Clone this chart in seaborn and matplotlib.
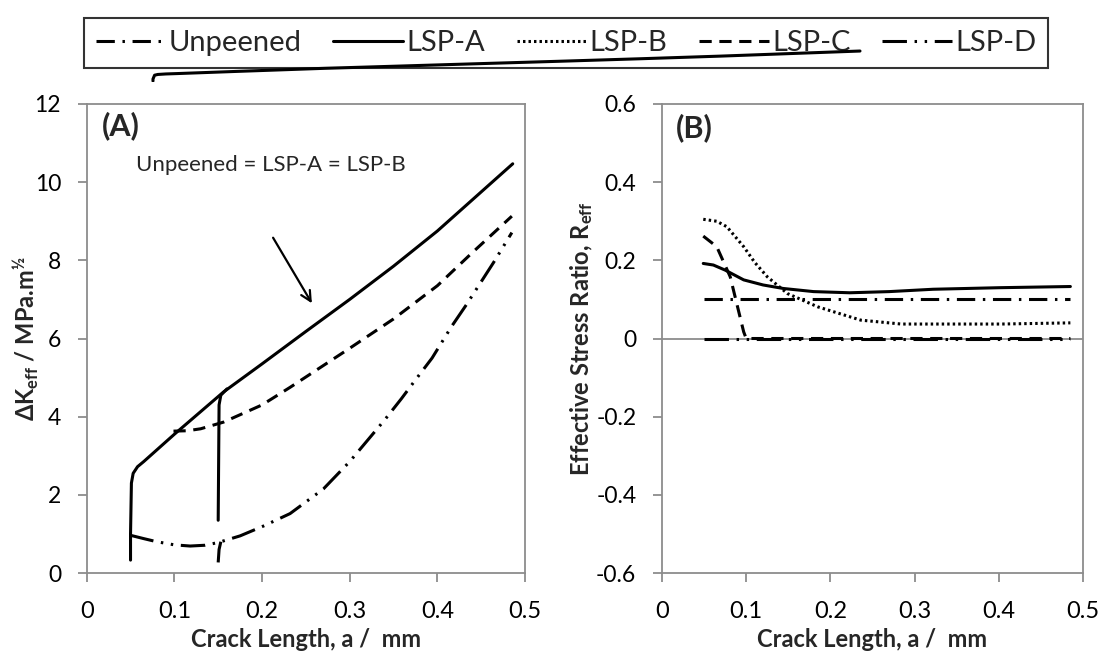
import seaborn as sns
import matplotlib.pyplot as plt
import pandas as pd

# ---- panel A: delta K_eff vs crack length ----
a_main_x = [0.050, 0.050, 0.051, 0.053, 0.058, 0.065, 0.100, 0.156, 0.200, 0.250, 0.300, 0.350, 0.400, 0.450, 0.486]
a_main_y = [0.33, 1.00, 2.30, 2.55, 2.72, 2.85, 3.55, 4.63, 5.35, 6.18, 7.00, 7.85, 8.75, 9.75, 10.47]
a_jump_x = [0.150, 0.151, 0.153, 0.160]
a_jump_y = [1.35, 4.30, 4.55, 4.71]
a_lspc_x = [0.099, 0.115, 0.130, 0.156, 0.200, 0.232, 0.300, 0.350, 0.400, 0.440, 0.485]
a_lspc_y = [3.63, 3.64, 3.69, 3.86, 4.30, 4.75, 5.75, 6.50, 7.35, 8.20, 9.13]
a_lspd_x = [0.049, 0.065, 0.080, 0.100, 0.118, 0.135, 0.150, 0.175, 0.2015, 0.232, 0.270, 0.300, 0.340, 0.359, 0.375, 0.394, 0.416, 0.433, 0.464, 0.485]
a_lspd_y = [0.97, 0.88, 0.80, 0.72, 0.69, 0.71, 0.78, 0.95, 1.20, 1.52, 2.15, 2.85, 3.92, 4.46, 4.94, 5.50, 6.30, 6.86, 7.94, 8.71]
a_lspd2_x = [0.150, 0.151, 0.153]
a_lspd2_y = [0.27, 0.60, 0.80]

# ---- panel B: effective stress ratio ----
b_unp_x = [0.050, 0.485]
b_unp_y = [0.10, 0.10]
b_lspa_x = [0.049, 0.061, 0.075, 0.097, 0.120, 0.144, 0.180, 0.223, 0.270, 0.322, 0.401, 0.485]
b_lspa_y = [0.192, 0.188, 0.175, 0.150, 0.137, 0.128, 0.120, 0.117, 0.120, 0.126, 0.130, 0.133]
b_lspb_x = [0.049, 0.065, 0.077, 0.097, 0.110, 0.125, 0.149, 0.185, 0.236, 0.284, 0.403, 0.485]
b_lspb_y = [0.305, 0.300, 0.286, 0.235, 0.195, 0.158, 0.115, 0.081, 0.047, 0.037, 0.037, 0.040]
b_lspc_x = [0.049, 0.065, 0.081, 0.097, 0.100, 0.485]
b_lspc_y = [0.262, 0.235, 0.158, 0.017, 0.0, 0.0]
b_lspd_x = [0.050, 0.485]
b_lspd_y = [0.0, 0.0]

series_names = ['Unpeened', 'LSP-A', 'LSP-B', 'LSP-C', 'LSP-D']
annot_text = 'Unpeened = LSP-A = LSP-B'

styles = {
    'Unpeened': (0, (6, 2.5, 0.8, 2.5)),
    'LSP-A': '-',
    'LSP-B': (0, (0.8, 1.0)),
    'LSP-C': (0, (4, 2.5)),
    'LSP-D': (0, (8, 2.5, 0.8, 2.5, 0.8, 2.5)),
}

sns.set_style('white')
plt.rcParams['font.family'] = ['Lato', 'DejaVu Sans']
plt.rcParams['mathtext.default'] = 'regular'

GRAY = '#8c8c8c'
LW = 2.2

W, H = 1105, 659
fig = plt.figure(figsize=(W / 100, H / 100), dpi=100)
ax_a = fig.add_axes([86.7 / W, 86 / H, 438.3 / W, 469 / H])
ax_b = fig.add_axes([662 / W, 86 / H, 421 / W, 469 / H])


def draw(ax, xs, ys, name, label=None):
    df = pd.DataFrame({'x': xs, 'y': ys})
    sns.lineplot(data=df, x='x', y='y', sort=False, estimator=None, ax=ax,
                 color='black', linewidth=LW, linestyle=styles[name],
                 label=label, legend=False)


draw(ax_a, a_main_x, a_main_y, 'LSP-A')
draw(ax_a, a_jump_x, a_jump_y, 'LSP-A')
draw(ax_a, a_lspc_x, a_lspc_y, 'LSP-C')
draw(ax_a, a_lspd_x, a_lspd_y, 'LSP-D')
draw(ax_a, a_lspd2_x, a_lspd2_y, 'LSP-D')

ax_b.axhline(0, color=GRAY, lw=1.3, zorder=1)
draw(ax_b, b_unp_x, b_unp_y, 'Unpeened', 'Unpeened')
draw(ax_b, b_lspa_x, b_lspa_y, 'LSP-A', 'LSP-A')
draw(ax_b, b_lspb_x, b_lspb_y, 'LSP-B', 'LSP-B')
draw(ax_b, b_lspc_x, b_lspc_y, 'LSP-C', 'LSP-C')
draw(ax_b, b_lspd_x, b_lspd_y, 'LSP-D', 'LSP-D')

for ax in (ax_a, ax_b):
    ax.set_xlim(0, 0.5)
    ax.set_xticks([0, 0.1, 0.2, 0.3, 0.4, 0.5])
    ax.set_xticklabels(['0', '0.1', '0.2', '0.3', '0.4', '0.5'])
    for s in ax.spines.values():
        s.set_visible(True)
        s.set_color(GRAY)
        s.set_linewidth(1.3)
    ax.tick_params(axis='both', direction='out', length=6.5, width=1.3,
                   color=GRAY, labelcolor='black', labelsize=17)
    ax.tick_params(axis='x', pad=14, bottom=True)
    ax.tick_params(axis='y', pad=12, left=True, labelsize=16.5)
    ax.set_xlabel('Crack Length, a /  mm', fontsize=17, fontweight='bold')
    ax.xaxis.set_label_coords(0.5, -0.118)

ax_a.set_ylim(0, 12)
ax_a.set_yticks(range(0, 13, 2))
ax_a.set_ylabel('ΔK$_{eff}$ / MPa.m$^{½}$', fontsize=17, fontweight='bold')
ax_a.yaxis.set_label_coords(-0.105, 0.5)

ax_b.set_ylim(-0.6, 0.6)
ax_b.set_yticks([-0.6, -0.4, -0.2, 0, 0.2, 0.4, 0.6])
ax_b.set_yticklabels(['-0.6', '-0.4', '-0.2', '0', '0.2', '0.4', '0.6'])
ax_b.set_ylabel('Effective Stress Ratio, R$_{eff}$', fontsize=17, fontweight='bold')
ax_b.yaxis.set_label_coords(-0.16, 0.5)

ax_a.text(0.017, 11.45, '(A)', fontsize=22, fontweight='bold', va='center')
ax_b.text(0.017, 0.54, '(B)', fontsize=22, fontweight='bold', va='center')

ax_a.text(0.21, 10.45, annot_text, fontsize=16, ha='center', va='center')
ax_a.annotate('', xy=(0.2585, 6.84), xytext=(0.211, 8.64),
              arrowprops=dict(arrowstyle='->', lw=1.6, color='black',
                              mutation_scale=18))

handles, labels = ax_b.get_legend_handles_labels()
leg = fig.legend(handles, labels, ncol=5, loc='center',
                 bbox_to_anchor=(84 / W, (659 - 81) / H, (1048 - 84) / W, 76 / H),
                 mode='expand', fontsize=21, frameon=True, fancybox=False,
                 handlelength=2.4, handletextpad=0.1, columnspacing=1.2,
                 borderaxespad=0)
leg.get_frame().set_edgecolor('black')
leg.get_frame().set_linewidth(1.5)

# stray copy of the LSP-A curve sitting over the legend box
ax_s = fig.add_axes([71.9 / W, (659 - 82) / H, 810.8 / W, 35.5 / H], zorder=10)
ax_s.set_xlim(0, 0.5)
ax_s.set_ylim(0, 12)
ax_s.axis('off')
ax_s.patch.set_alpha(0)
draw(ax_s, a_main_x, a_main_y, 'LSP-A')

fig.savefig('out.png', dpi=100)
